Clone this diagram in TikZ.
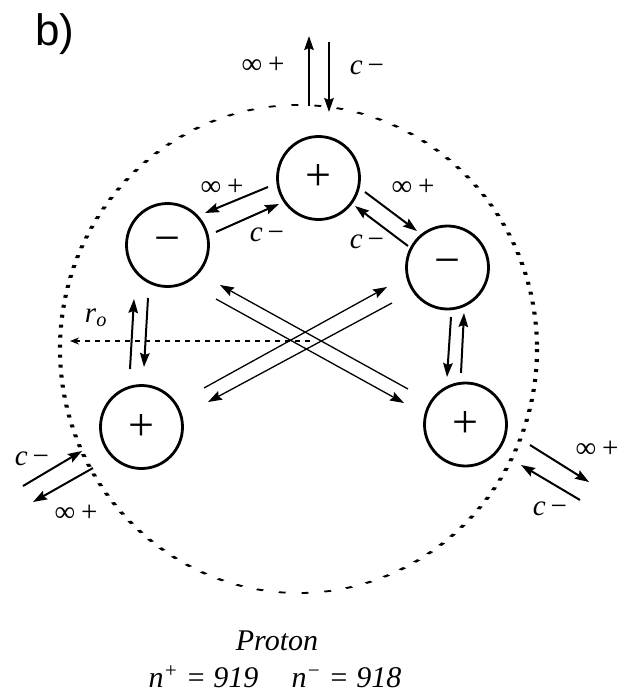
\documentclass[tikz,border=0pt]{standalone}
\usepackage{fontspec}
\setmainfont{Liberation Serif}
\newfontfamily\tagfont{Liberation Sans}
\usetikzlibrary{arrows.meta,positioning,shapes.geometric}

\begin{document}
\begin{tikzpicture}[
  x=1pt, y=-1pt,
  particle/.style={ellipse,draw,line width=2.8pt,minimum width=82pt,minimum height=83pt,inner sep=0pt,font=\fontsize{46}{46}\selectfont},
  arr/.style={-{Stealth[length=14pt,width=9.5pt,inset=2pt]},line width=2pt},
  xarr/.style={arr,line width=1.3pt},
  lbl/.style={inner sep=0pt,font=\fontsize{29}{30}\selectfont},
  capt/.style={inner sep=0pt,anchor=base,font=\fontsize{30}{36}\selectfont\itshape},
  shelldots/.style={line width=1.8pt,dash pattern=on 3pt off 7pt},
  rline/.style={-{Stealth[length=9pt,width=7pt]},line width=2pt,dash pattern=on 5pt off 5pt}
]
\useasboundingbox (0,0) rectangle (621,697);

% proton shell
\begin{scope}[transform canvas={xshift=298.5pt,xscale=2.3}]
  \draw[shelldots] (0,349) ellipse [x radius=103.7,y radius=244];
\end{scope}

\node[anchor=base west,inner sep=0pt,font=\tagfont\fontsize{44}{44}\selectfont] (tag) at (35,45) {b)};

% quarks
\node[particle] (P1) at (318.5,178) {+};
\node[particle] (N1) at (167.5,245) {−};
\node[particle] (N2) at (447.5,267.5) {−};
\node[particle] (P2) at (141.5,427) {+};
\node[particle] (P3) at (465.5,424.5) {+};

% radius
\coordinate (O) at (310,341);
\coordinate (rim) at (70,341);
\draw[rline] (O) -- (rim);
\node[lbl] (ro) at (96,318) {\textit{r}\textsubscript{\textit{o}}};

% exchange between neighbours
\draw[arr] ([shift={(-50.5,9)}]P1.center) -- ([shift={(37.5,-32)}]N1.center);
\draw[arr] ([shift={(48.5,-13)}]N1.center) -- ([shift={(-39.5,26)}]P1.center);
\draw[arr] ([shift={(46.5,14)}]P1.center) -- ([shift={(-30.5,-36.5)}]N2.center);
\draw[arr] ([shift={(-39.5,-21.5)}]N2.center) -- ([shift={(36.5,28)}]P1.center);
\draw[arr] ([shift={(-11.5,-58)}]P2.center) -- ([shift={(-33.5,54)}]N1.center);
\draw[arr] ([shift={(-19.5,53)}]N1.center) -- ([shift={(2.5,-60)}]P2.center);
\draw[arr] ([shift={(3.5,49.5)}]N2.center) -- ([shift={(-18.5,-47.5)}]P3.center);
\draw[arr] ([shift={(-4.5,-51.5)}]P3.center) -- ([shift={(16.5,45.5)}]N2.center);

% crossing exchange
\draw[xarr] ([shift={(-57.5,-35.5)}]P3.center) -- ([shift={(52.5,40)}]N1.center);
\draw[xarr] ([shift={(48.5,54)}]N1.center) -- ([shift={(-61.5,-21.5)}]P3.center);
\draw[xarr] ([shift={(62.5,-39)}]P2.center) -- ([shift={(-60.5,19.5)}]N2.center);
\draw[xarr] ([shift={(-55.5,35.5)}]N2.center) -- ([shift={(66.5,-25)}]P2.center);

% exchange with the outside
\coordinate (tu0) at (309,106); \coordinate (tu1) at (309,36);
\coordinate (td0) at (329,42);  \coordinate (td1) at (329,112);
\coordinate (lc0) at (23,486);  \coordinate (lc1) at (82,451);
\coordinate (li0) at (93,468);  \coordinate (li1) at (33,502);
\coordinate (ri0) at (530,445); \coordinate (ri1) at (589,482);
\coordinate (rc0) at (580,500); \coordinate (rc1) at (521,465);
\draw[arr] (tu0) -- (tu1);
\draw[arr] (td0) -- (td1);
\draw[arr] (lc0) -- (lc1);
\draw[arr] (li0) -- (li1);
\draw[arr] (ri0) -- (ri1);
\draw[arr] (rc0) -- (rc1);

% labels
\node[lbl] (l1) at (263,65) {∞\hspace{0.2em}+};
\node[lbl] (l2) at (367,68) {\textit{c}\,−};
\node[lbl] (l3) at (222,187) {∞\hspace{0.2em}+};
\node[lbl] (l4) at (267,235) {\textit{c}\,−};
\node[lbl] (l5) at (413,187) {∞\hspace{0.2em}+};
\node[lbl] (l6) at (367,242) {\textit{c}\,−};
\node[lbl] (l7) at (32,459) {\textit{c}\,−};
\node[lbl] (l8) at (76,513) {∞\hspace{0.2em}+};
\node[lbl] (l9) at (597,449) {∞\hspace{0.2em}+};
\node[lbl] (l10) at (550,509) {\textit{c}\,−};

% caption
\node[capt] (name) at (277,650) {Proton};
\node[capt] (counts) at (275,687) {n\textsuperscript{+} = 919\hspace{1.1em}n\textsuperscript{−} = 918};
\end{tikzpicture}
\end{document}
